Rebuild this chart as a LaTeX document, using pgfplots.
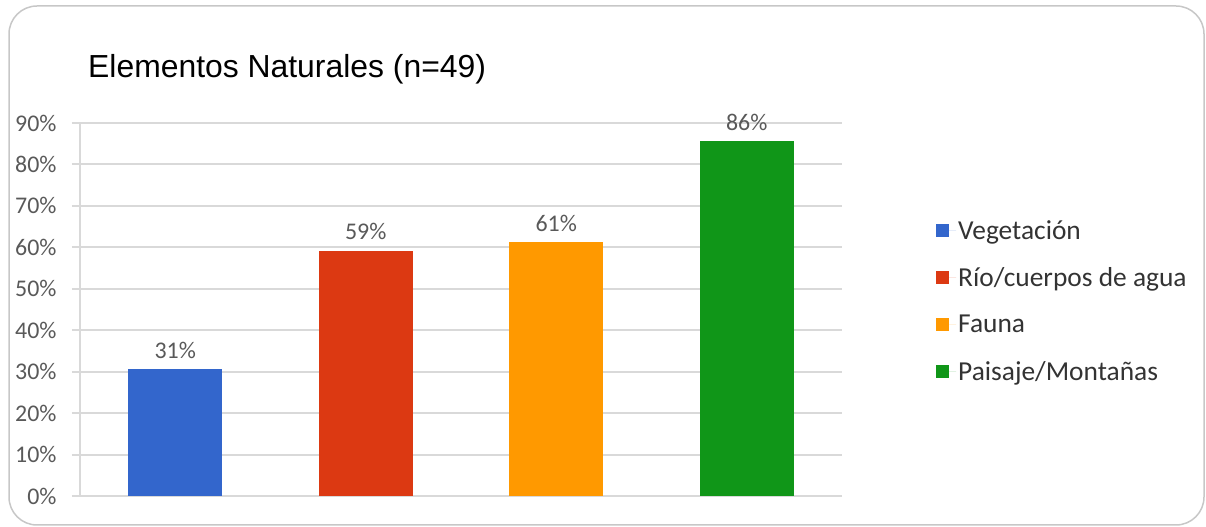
\documentclass[border=0pt]{standalone}
\usepackage{pgfplots}
\pgfplotsset{compat=1.18}
\usepackage{fontspec}
\setmainfont{Carlito}
\newfontfamily\arial{Liberation Sans}
\definecolor{cblue}{HTML}{3366CC}
\definecolor{cred}{HTML}{DC3912}
\definecolor{corange}{HTML}{FF9900}
\definecolor{cgreen}{HTML}{109618}
\definecolor{gridc}{HTML}{D9D9D9}
\definecolor{txt}{HTML}{595959}
\definecolor{legtxt}{HTML}{333333}
\begin{document}
\begin{tikzpicture}[x=1bp,y=1bp]
\useasboundingbox (0,0) rectangle (1206,527);
\draw[color=black!22, line width=1.5bp, rounded corners=28bp] (9,2) rectangle (1204,521);
\node[anchor=base west, inner sep=0pt, font=\arial\fontsize{32}{38}\selectfont] at (88,449.5) {Elementos Naturales (n=49)};
\begin{axis}[
  at={(80bp,31bp)}, anchor=south west,
  scale only axis, width=762bp, height=373bp,
  xmin=-0.5, xmax=3.5, ymin=0, ymax=90,
  ytick={0,10,...,90},
  /pgf/number format/assume math mode=true,
  yticklabel={\pgfmathprintnumber{\tick}\%},
  xtick=\empty,
  axis x line=bottom, axis y line=left,
  axis line style={gridc, line width=2bp, -},
  ymajorgrids, grid style={gridc, line width=2bp},
  tick align=outside, major tick length=8bp,
  ytick style={gridc, line width=2bp},
  yticklabel style={font=\fontsize{24}{28}\selectfont, text=txt, xshift=-12bp},
  ybar, bar width=94bp,
  nodes near coords={\pgfmathprintnumber[fixed,precision=0]{\pgfplotspointmeta}\%},
  nodes near coords style={font=\fontsize{24}{28}\selectfont, text=txt, yshift=7bp},
  legend style={at={(1,0.5)}, anchor=west, xshift=94bp, yshift=8.5bp, draw=none, fill=none,
    inner sep=0pt, row sep=23bp, font=\fontsize{27.5}{32}\selectfont, text=legtxt},
  legend cell align=left,
  legend image code/.code={\fill[#1] (0bp,-6.5bp) rectangle (13bp,6.5bp); \path (0bp,0bp) -- (20bp,0bp);},
]
\addplot[fill=cblue, draw=none, bar shift=0pt] coordinates {(0,30.6)};
\addplot[fill=cred, draw=none, bar shift=0pt] coordinates {(1,59.2)};
\addplot[fill=corange, draw=none, bar shift=0pt] coordinates {(2,61.2)};
\addplot[fill=cgreen, draw=none, bar shift=0pt] coordinates {(3,85.7)};
\legend{Vegetación, Río/cuerpos de agua, Fauna, Paisaje/Montañas}
\end{axis}
\end{tikzpicture}
\end{document}
